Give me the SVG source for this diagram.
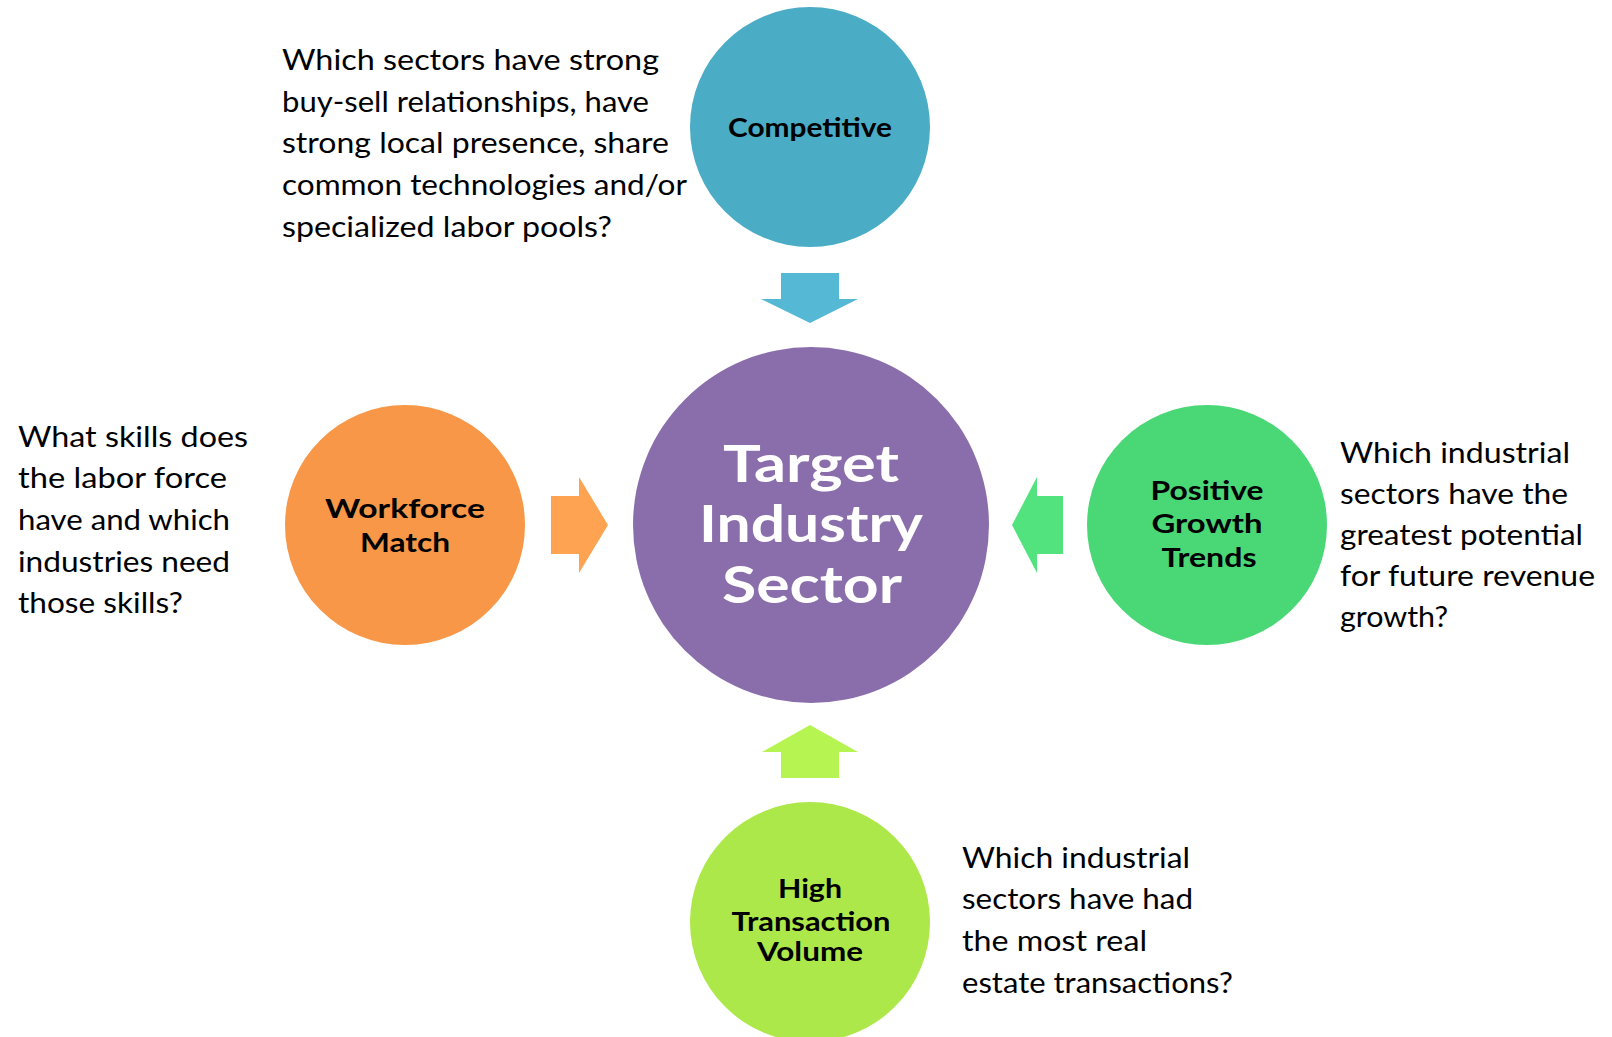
<svg xmlns="http://www.w3.org/2000/svg" width="1612" height="1037" viewBox="0 0 1612 1037">
<style>
.q{font-family:Lato,"Open Sans","Liberation Sans",sans-serif;font-size:28px;fill:#000}
.b{font-family:Lato,"Open Sans","Liberation Sans",sans-serif;font-weight:700;font-size:27px;fill:#000;text-anchor:middle}
.c{font-family:Lato,"Open Sans","Liberation Sans",sans-serif;font-weight:700;font-size:52px;fill:#fff;text-anchor:middle}
</style>
<rect width="1612" height="1037" fill="#fff"/>
<g id="connectors">
<polygon points="781,273 839,273 839,299 858,299 810,323 761,299 781,299" fill="#55B8D5"/>
<polygon points="810,725 858,752 839,752 839,778 781,778 781,752 762,752" fill="#B6F452"/>
<polygon points="551,496 579,496 579,477 608,525 579,573 579,554 551,554" fill="#FDA352"/>
<polygon points="1063,496 1037,496 1037,477 1012,525 1037,573 1037,554 1063,554" fill="#52E37E"/>
</g>
<g id="center">
<circle cx="811" cy="525" r="178" fill="#8A6EAC"/>
<text class="c" x="811" y="482" textLength="176" lengthAdjust="spacingAndGlyphs">Target</text>
<text class="c" x="811" y="542" textLength="224" lengthAdjust="spacingAndGlyphs">Industry</text>
<text class="c" x="812" y="603" textLength="180" lengthAdjust="spacingAndGlyphs">Sector</text>
</g>
<g id="competitive">
<circle cx="810" cy="127" r="120" fill="#4BACC6"/>
<text class="b" x="810" y="137" textLength="164" lengthAdjust="spacingAndGlyphs">Competitive</text>
</g>
<g id="workforce">
<circle cx="405" cy="525" r="120" fill="#F79747"/>
<text class="b" x="405" y="518" font-size="29" textLength="160" lengthAdjust="spacingAndGlyphs">Workforce</text>
<text class="b" x="405" y="552" font-size="29" textLength="90" lengthAdjust="spacingAndGlyphs">Match</text>
</g>
<g id="growth">
<circle cx="1207" cy="525" r="120" fill="#4AD776"/>
<text class="b" x="1207" y="500" textLength="113" lengthAdjust="spacingAndGlyphs">Positive</text>
<text class="b" x="1207" y="533" textLength="111" lengthAdjust="spacingAndGlyphs">Growth</text>
<text class="b" x="1209" y="567" textLength="95" lengthAdjust="spacingAndGlyphs">Trends</text>
</g>
<g id="transaction">
<circle cx="810" cy="922" r="120" fill="#ADE84A"/>
<text class="b" x="810" y="898" font-size="25" textLength="64" lengthAdjust="spacingAndGlyphs">High</text>
<text class="b" x="811" y="931" font-size="25" textLength="159" lengthAdjust="spacingAndGlyphs">Transaction</text>
<text class="b" x="810" y="961" font-size="25" textLength="106" lengthAdjust="spacingAndGlyphs">Volume</text>
</g>
<g id="competitive-question">
<text class="q" x="282" y="70" textLength="377" lengthAdjust="spacingAndGlyphs">Which sectors have strong</text>
<text class="q" x="282" y="112" textLength="367" lengthAdjust="spacingAndGlyphs">buy-sell relationships, have</text>
<text class="q" x="282" y="153" textLength="387" lengthAdjust="spacingAndGlyphs">strong local presence, share</text>
<text class="q" x="282" y="195" textLength="405" lengthAdjust="spacingAndGlyphs">common technologies and/or</text>
<text class="q" x="282" y="237" textLength="330" lengthAdjust="spacingAndGlyphs">specialized labor pools?</text>
</g>
<g id="workforce-question">
<text class="q" x="18" y="447" textLength="230" lengthAdjust="spacingAndGlyphs">What skills does</text>
<text class="q" x="18" y="488" textLength="209" lengthAdjust="spacingAndGlyphs">the labor force</text>
<text class="q" x="18" y="530" textLength="212" lengthAdjust="spacingAndGlyphs">have and which</text>
<text class="q" x="18" y="572" textLength="212" lengthAdjust="spacingAndGlyphs">industries need</text>
<text class="q" x="18" y="613" textLength="165" lengthAdjust="spacingAndGlyphs">those skills?</text>
</g>
<g id="growth-question">
<text class="q" x="1340" y="463" textLength="230" lengthAdjust="spacingAndGlyphs">Which industrial</text>
<text class="q" x="1340" y="504" textLength="228" lengthAdjust="spacingAndGlyphs">sectors have the</text>
<text class="q" x="1340" y="545" textLength="243" lengthAdjust="spacingAndGlyphs">greatest potential</text>
<text class="q" x="1340" y="586" textLength="255" lengthAdjust="spacingAndGlyphs">for future revenue</text>
<text class="q" x="1340" y="627" textLength="108" lengthAdjust="spacingAndGlyphs">growth?</text>
</g>
<g id="transaction-question">
<text class="q" x="962" y="868" textLength="228" lengthAdjust="spacingAndGlyphs">Which industrial</text>
<text class="q" x="962" y="909" textLength="231" lengthAdjust="spacingAndGlyphs">sectors have had</text>
<text class="q" x="962" y="951" textLength="185" lengthAdjust="spacingAndGlyphs">the most real</text>
<text class="q" x="962" y="993" textLength="271" lengthAdjust="spacingAndGlyphs">estate transactions?</text>
</g>
</svg>
